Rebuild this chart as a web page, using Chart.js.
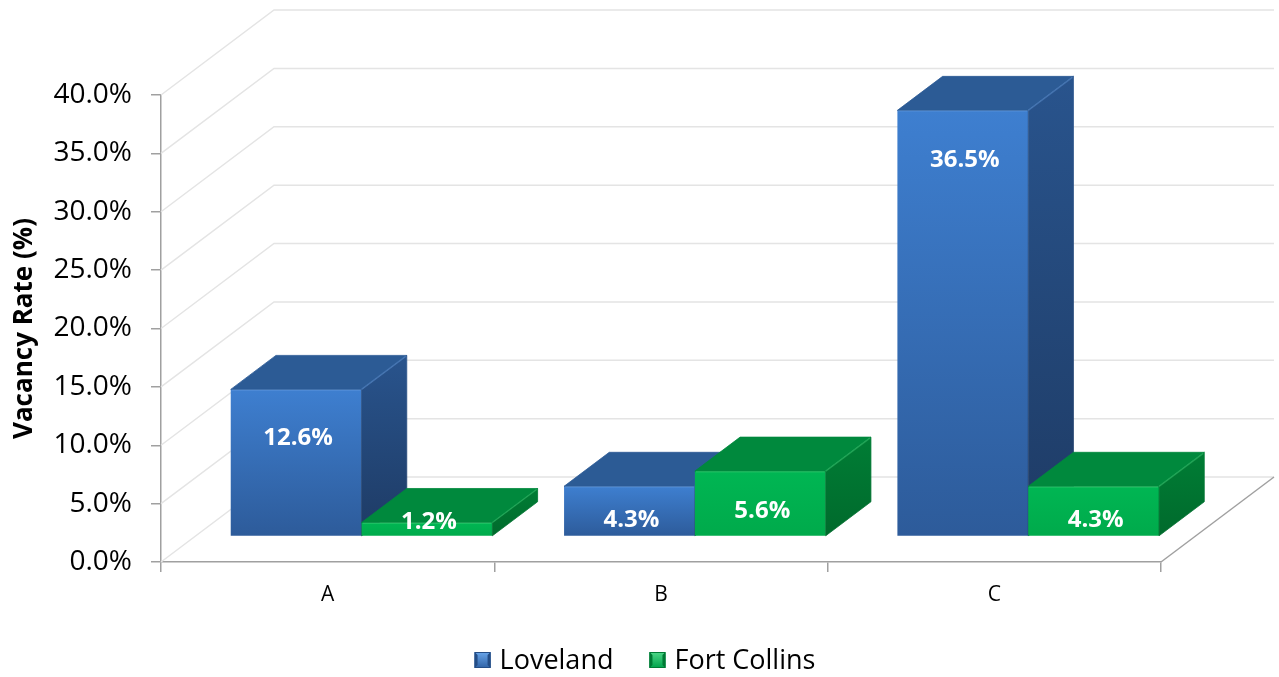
<!DOCTYPE html>
<html>
<head>
<meta charset="utf-8">
<title>Vacancy Rate</title>
<script src="https://cdn.jsdelivr.net/npm/chart.js@4.4.1/dist/chart.umd.min.js"></script>
<style>
  html, body { margin: 0; padding: 0; background: #ffffff; }
  #wrap { width: 1279px; height: 677px; position: relative; }
  canvas { display: block; }
</style>
</head>
<body>
<div id="wrap"><canvas id="chart" width="1279" height="677"></canvas></div>
<script>
// ---- data ----
const categories = ['A', 'B', 'C'];
const seriesNames = ['Loveland', 'Fort Collins'];
const loveland = [12.6, 4.3, 36.5];
const fortCollins = [1.2, 5.6, 4.3];
const yTickValues = [0, 5, 10, 15, 20, 25, 30, 35, 40];
const yAxisTitle = 'Vacancy Rate (%)';

// ---- look ----
const FONT = "'Open Sans', 'DejaVu Sans', sans-serif";
const AXIS_GRAY = '#a0a0a0';
const GRID_GRAY = '#e4e4e4';
const DEPTH = { x: 113, y: -85 };   // vector from the front plane to the back wall
const BAR_FRONT = 0.3;              // bars start 30% into the box
const BAR_DEPTH = 0.4;              // and are 40% of the box deep

const palettes = [
  { front: ['#3e7fd0', '#2d5b9a'], side: ['#29548d', '#1e3b65'], top: '#2c5b95',
    edge: 'rgba(110,160,225,0.35)', mark: ['#6aa6ea', '#2f62a5', '#244d86'] },
  { front: ['#00b653', '#00aa4b'], side: ['#007d35', '#006a2c'], top: '#00893d',
    edge: 'rgba(80,215,130,0.35)', mark: ['#4fd889', '#00a24a', '#007a35'] }
];

const fmtPct = v => v.toFixed(1) + '%';

function frontOffset() { return { x: DEPTH.x * BAR_FRONT, y: DEPTH.y * BAR_FRONT }; }
function barDepth() { return { x: DEPTH.x * BAR_DEPTH, y: DEPTH.y * BAR_DEPTH }; }

// vertical gradient for each bar's front face, built from the value scale
function frontFill(di) {
  return (c) => {
    const pal = palettes[di];
    const ys = c.chart.scales && c.chart.scales.y;
    if (c.type !== 'data' || !ys) return pal.front[0];
    const top = ys.getPixelForValue(c.raw);
    const base = ys.getPixelForValue(0);
    if (!isFinite(top) || !isFinite(base) || top === base) return pal.front[0];
    const g = c.chart.ctx.createLinearGradient(0, top, 0, base);
    g.addColorStop(0, pal.front[0]);
    g.addColorStop(1, pal.front[1]);
    return g;
  };
}

function barBox(bar) {
  const p = bar.getProps(['x', 'y', 'base', 'width'], true);
  const f = frontOffset();
  return {
    l: p.x - p.width / 2 + f.x,
    r: p.x + p.width / 2 + f.x,
    t: Math.min(p.y, p.base) + f.y,
    b: Math.max(p.y, p.base) + f.y,
    cx: p.x + f.x
  };
}

function poly(ctx, pts) {
  ctx.beginPath();
  ctx.moveTo(pts[0][0], pts[0][1]);
  for (let i = 1; i < pts.length; i++) ctx.lineTo(pts[i][0], pts[i][1]);
  ctx.closePath();
}

function drawMarker(ctx, x, y, s, pal) {
  const g = ctx.createLinearGradient(0, y, 0, y + s);
  g.addColorStop(0, pal.mark[0]);
  g.addColorStop(1, pal.mark[1]);
  ctx.fillStyle = g;
  ctx.fillRect(x, y, s, s);
  const b = 3;
  ctx.fillStyle = pal.mark[2];
  poly(ctx, [[x, y], [x + b, y + b], [x + b, y + s - b], [x, y + s]]); ctx.fill();
  poly(ctx, [[x + s, y], [x + s - b, y + b], [x + s - b, y + s - b], [x + s, y + s]]); ctx.fill();
  ctx.strokeStyle = pal.mark[2];
  ctx.lineWidth = 1;
  ctx.strokeRect(x + 0.5, y + 0.5, s - 1, s - 1);
}

// right side and top faces of one series' boxes
function drawDepthFaces(ctx, meta, pal) {
  const d = barDepth();
  meta.data.forEach(bar => {
    const k = barBox(bar);
    const gs = ctx.createLinearGradient(0, k.t + d.y, 0, k.b);
    gs.addColorStop(0, pal.side[0]);
    gs.addColorStop(1, pal.side[1]);
    ctx.fillStyle = gs;
    ctx.strokeStyle = gs;
    ctx.lineWidth = 0.8;
    poly(ctx, [[k.r, k.t], [k.r + d.x, k.t + d.y], [k.r + d.x, k.b + d.y], [k.r, k.b]]);
    ctx.fill(); ctx.stroke();
    ctx.fillStyle = pal.top;
    ctx.strokeStyle = pal.top;
    poly(ctx, [[k.l, k.t], [k.l + d.x, k.t + d.y], [k.r + d.x, k.t + d.y], [k.r, k.t]]);
    ctx.fill(); ctx.stroke();
    // soft bevel highlights along the front edges
    ctx.strokeStyle = pal.edge;
    ctx.lineWidth = 1.5;
    ctx.beginPath();
    ctx.moveTo(k.l + 1, k.t + 0.75);
    ctx.lineTo(k.r - 1, k.t + 0.75);
    ctx.moveTo(k.r, k.t);
    ctx.lineTo(k.r + d.x - 1, k.t + d.y + 1);
    ctx.stroke();
  });
}

const box3d = {
  id: 'box3d',
  beforeDatasetsDraw(chart) {
    const { ctx, chartArea } = chart;
    const ys = chart.scales.y;
    ctx.save();
    // side wall + back wall gridlines
    ctx.strokeStyle = GRID_GRAY;
    ctx.lineWidth = 1.5;
    yTickValues.forEach(v => {
      const y0 = ys.getPixelForValue(v);
      ctx.beginPath();
      ctx.moveTo(chartArea.left, y0);
      ctx.lineTo(chartArea.left + DEPTH.x, y0 + DEPTH.y);
      ctx.lineTo(chartArea.right + DEPTH.x, y0 + DEPTH.y);
      ctx.stroke();
    });
    // right edge of the floor
    ctx.strokeStyle = AXIS_GRAY;
    ctx.lineWidth = 1.5;
    const y0 = ys.getPixelForValue(0);
    ctx.beginPath();
    ctx.moveTo(chartArea.right, y0);
    ctx.lineTo(chartArea.right + DEPTH.x, y0 + DEPTH.y);
    ctx.stroke();
    ctx.restore();
  },
  // boxes are painted in series order below, so the default pass is skipped
  beforeDatasetDraw() { return false; },
  afterDatasetsDraw(chart) {
    const ctx = chart.ctx;
    const f = frontOffset();
    chart.data.datasets.forEach((ds, di) => {
      const meta = chart.getDatasetMeta(di);
      if (meta.hidden) return;
      ctx.save();
      ctx.translate(f.x, f.y);
      meta.data.forEach(el => el.draw(ctx));
      ctx.restore();
      ctx.save();
      drawDepthFaces(ctx, meta, palettes[di]);
      ctx.restore();
    });

    // value labels on the front faces
    ctx.save();
    ctx.fillStyle = '#ffffff';
    ctx.font = "bold 24px " + FONT;
    ctx.textAlign = 'center';
    ctx.textBaseline = 'middle';
    chart.data.datasets.forEach((ds, di) => {
      chart.getDatasetMeta(di).data.forEach((bar, i) => {
        const k = barBox(bar);
        const h = k.b - k.t;
        const off = 50 * (1 - Math.exp(-Math.max(h - 14, 0) / 32));
        ctx.fillText(fmtPct(ds.data[i]), k.cx + 2, k.t + off);
      });
    });
    ctx.restore();
  },
  afterDraw(chart) {
    // legend row under the axis
    const ctx = chart.ctx;
    ctx.save();
    ctx.font = "27px " + FONT;
    ctx.textBaseline = 'middle';
    ctx.textAlign = 'left';
    const s = 16, gapText = 9, gapItem = 36;
    const widths = chart.data.datasets.map(ds => ctx.measureText(ds.label).width);
    let total = 0;
    widths.forEach((w, i) => { total += s + gapText + w + (i ? gapItem : 0); });
    let x = 645 - total / 2;
    const cy = 660;
    chart.data.datasets.forEach((ds, i) => {
      if (i) x += gapItem;
      drawMarker(ctx, x, cy - s / 2, s, palettes[i]);
      x += s + gapText;
      ctx.fillStyle = '#000000';
      ctx.fillText(ds.label, x, cy + 1);
      x += widths[i];
    });
    ctx.restore();
  }
};

const datasets = [loveland, fortCollins].map((vals, di) => ({
  label: seriesNames[di],
  data: vals,
  backgroundColor: frontFill(di),
  borderWidth: 0,
  categoryPercentage: 0.785,
  barPercentage: 1.0,
  clip: false
}));

new Chart(document.getElementById('chart'), {
  type: 'bar',
  data: { labels: categories, datasets },
  plugins: [box3d],
  options: {
    responsive: false,
    animation: false,
    devicePixelRatio: 1,
    layout: { padding: { top: 95, right: 118, bottom: 0, left: 0 } },
    plugins: {
      legend: { display: false },
      tooltip: { enabled: false }
    },
    scales: {
      x: {
        offset: true,
        grid: { offset: true, drawOnChartArea: false, drawTicks: true, tickLength: 10,
                color: AXIS_GRAY, lineWidth: 1.5 },
        border: { display: true, color: AXIS_GRAY, width: 1.5 },
        ticks: { color: '#000000', font: { family: FONT, size: 21 }, padding: 10 },
        afterFit(scale) { scale.height = 677 - 562; }
      },
      y: {
        min: 0,
        max: 40,
        afterBuildTicks(scale) { scale.ticks = yTickValues.map(v => ({ value: v })); },
        grid: { drawOnChartArea: false, drawTicks: true, tickLength: 10,
                color: AXIS_GRAY, lineWidth: 1.5 },
        border: { display: true, color: AXIS_GRAY, width: 1.5 },
        ticks: { color: '#000000', font: { family: FONT, size: 28 }, padding: 19,
                 callback: v => fmtPct(v) },
        title: { display: true, text: yAxisTitle, color: '#000000',
                 font: { family: FONT, size: 26, weight: 'bold' },
                 padding: { top: 9, bottom: 0 } },
        afterFit(scale) { scale.width = 161; }
      }
    }
  }
});
</script>
</body>
</html>
